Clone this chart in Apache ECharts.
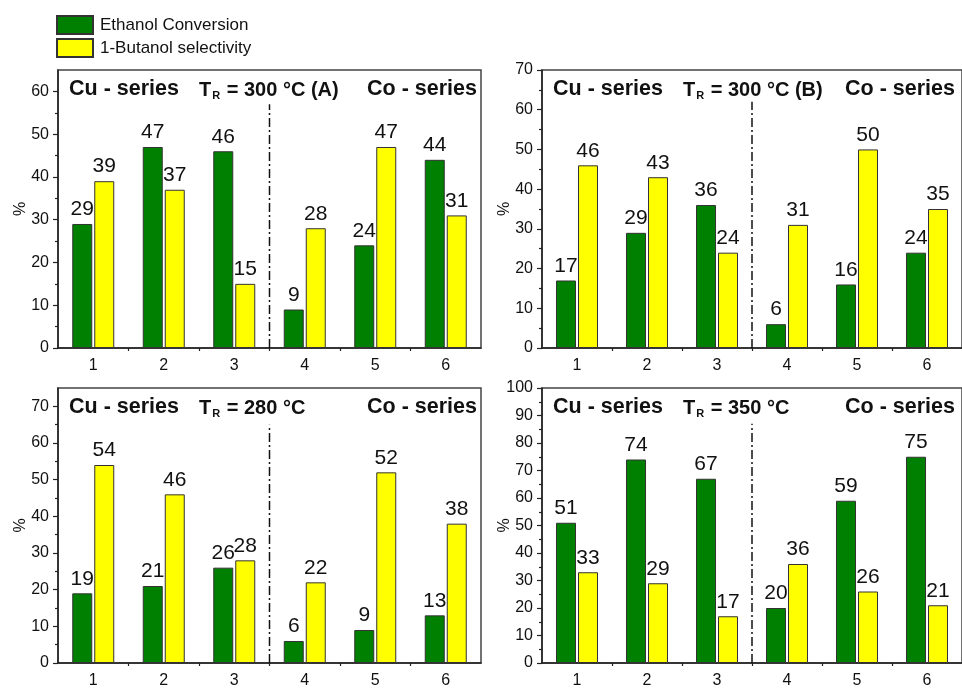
<!DOCTYPE html>
<html>
<head>
<meta charset="utf-8">
<style>
  html, body { margin: 0; padding: 0; background: #fff; }
  #chart { width: 962px; height: 689px; }
</style>
<script src="https://cdn.jsdelivr.net/npm/echarts@6/dist/echarts.min.js"></script>
</head>
<body>
<div id="chart"></div>
<script>
// Catalyst numbers on the x axis
const catalysts = ['1', '2', '3', '4', '5', '6'];

// Panel A: T_R = 300 °C
const convA = [29, 47, 46, 9, 24, 44];
const selA  = [39, 37, 15, 28, 47, 31];
// Panel B: T_R = 300 °C
const convB = [17, 29, 36, 6, 16, 24];
const selB  = [46, 43, 24, 31, 50, 35];
// Panel C: T_R = 280 °C
const convC = [19, 21, 26, 6, 9, 13];
const selC  = [54, 46, 28, 22, 52, 38];
// Panel D: T_R = 350 °C
const convD = [51, 74, 67, 20, 59, 75];
const selD  = [33, 29, 17, 36, 26, 21];

// y-axis tops and labelled ticks for each panel
const yMax = [65, 70, 75, 100];
const yTicksA = [0, 10, 20, 30, 40, 50, 60];
const yTicksB = [0, 10, 20, 30, 40, 50, 60, 70];
const yTicksC = [0, 10, 20, 30, 40, 50, 60, 70];
const yTicksD = [0, 10, 20, 30, 40, 50, 60, 70, 80, 90, 100];

// Cu/Co divider position on the x axis and how high it reaches in each panel
const dividerX = 3.5;
const dividerTop = [57, 62, 65, 87];

// Panel headings
const tempText = ['300 °C (A)', '300 °C (B)', '280 °C', '350 °C'];

const FONT = '"Liberation Sans", Arial, sans-serif';
const GREEN = '#008000';
const YELLOW = '#ffff00';

const grids = [
  { left: 58, top: 70, width: 423, height: 278 },
  { left: 542, top: 70, width: 423, height: 278 },
  { left: 58, top: 388, width: 423, height: 280 },
  { left: 542, top: 388, width: 423, height: 280 }
];
// horizontal offsets of the "Co - series" heading inside each panel
const coOffset = [309, 303, 309, 303];

const panels = [
  { conv: convA, sel: selA, ticks: yTicksA },
  { conv: convB, sel: selB, ticks: yTicksB },
  { conv: convC, sel: selC, ticks: yTicksC },
  { conv: convD, sel: selD, ticks: yTicksD }
];

const option = {
  animation: false,
  backgroundColor: '#fff',
  textStyle: { fontFamily: FONT },
  grid: [],
  xAxis: [],
  yAxis: [],
  series: [],
  title: [],
  legend: {
    orient: 'vertical',
    left: 56,
    top: 15,
    padding: 0,
    itemWidth: 36,
    itemHeight: 18,
    itemGap: 3,
    icon: 'rect',
    textStyle: { fontFamily: FONT, fontSize: 17, color: '#111', padding: [0, 0, 0, 2] },
    data: ['Ethanol Conversion', '1-Butanol selectivity']
  }
};

function minorBetween(values, step) {
  const out = [];
  for (let i = 0; i < values.length; i++) out.push(values[i] + step);
  return out;
}

panels.forEach((p, i) => {
  const g = grids[i];
  option.grid.push(Object.assign({ show: true, borderColor: '#444', borderWidth: 1.5, containLabel: false }, g));

  // category axis carrying the bars, major ticks at the catalyst centres
  option.xAxis.push({
    type: 'category',
    gridIndex: i,
    data: catalysts,
    boundaryGap: true,
    axisLine: { lineStyle: { color: '#222', width: 1.5 } },
    axisTick: { alignWithLabel: true, length: 6, lineStyle: { color: '#222', width: 1.2 } },
    axisLabel: { fontSize: 16, color: '#111', margin: 10, fontFamily: FONT }
  });
  // value axis spanning the same range: minor ticks and the divider line
  option.xAxis.push({
    type: 'value',
    gridIndex: i,
    min: 0.5,
    max: 6.5,
    position: 'bottom',
    axisLine: { show: false },
    splitLine: { show: false },
    axisLabel: { show: false },
    axisTick: { show: true, length: 3, customValues: [1.5, 2.5, 3.5, 4.5, 5.5], lineStyle: { color: '#222', width: 1.2 } }
  });

  const ticks = p.ticks;
  option.yAxis.push({
    type: 'value',
    gridIndex: i,
    position: 'left',
    min: 0,
    max: yMax[i],
    name: '%',
    nameLocation: 'middle',
    nameGap: 29,
    nameRotate: 90,
    nameMoveOverlap: false,
    nameTextStyle: { fontSize: 16, color: '#111', fontFamily: FONT },
    axisLine: { show: true, lineStyle: { color: '#222', width: 1.5 } },
    splitLine: { show: false },
    axisTick: { show: true, length: 5, customValues: ticks, lineStyle: { color: '#222', width: 1.2 } },
    axisLabel: { fontSize: 16, color: '#111', margin: 9, customValues: ticks, fontFamily: FONT }
  });
  option.yAxis.push({
    type: 'value',
    gridIndex: i,
    position: 'left',
    offset: 0,
    min: 0,
    max: yMax[i],
    axisLine: { show: false },
    splitLine: { show: false },
    axisLabel: { show: false },
    axisTick: { show: true, length: 3, customValues: minorBetween(ticks.slice(0, -1), 5), lineStyle: { color: '#222', width: 1.2 } }
  });

  const xCat = i * 2, xVal = i * 2 + 1, yMain = i * 2;
  const labelStyle = { show: true, position: 'top', distance: 4, fontSize: 21, color: '#111', fontFamily: FONT };

  option.series.push({
    name: 'Ethanol Conversion',
    type: 'bar',
    xAxisIndex: xCat,
    yAxisIndex: yMain,
    data: p.conv,
    barWidth: 20,
    barGap: '10%',
    itemStyle: { color: GREEN, borderColor: '#333', borderWidth: 1 },
    label: labelStyle
  });
  option.series.push({
    name: '1-Butanol selectivity',
    type: 'bar',
    xAxisIndex: xCat,
    yAxisIndex: yMain,
    data: p.sel,
    barWidth: 20,
    barGap: '10%',
    itemStyle: { color: YELLOW, borderColor: '#333', borderWidth: 1 },
    label: labelStyle
  });
  // Cu / Co divider
  option.series.push({
    type: 'line',
    xAxisIndex: xVal,
    yAxisIndex: yMain,
    data: [[dividerX, 0], [dividerX, dividerTop[i]]],
    symbol: 'none',
    silent: true,
    lineStyle: { color: '#111', width: 1.5, type: [9, 3, 2, 3] }
  });

  // headings inside the panel
  const headTop = g.top + 8;
  option.title.push({
    text: 'Cu - series',
    left: g.left + 11,
    top: headTop,
    padding: 0,
    textStyle: { fontSize: 21.5, fontWeight: 'bold', color: '#111', fontFamily: FONT }
  });
  option.title.push({
    text: '{b|T}{s|R}{b| = ' + tempText[i] + '}',
    left: g.left + 141,
    top: headTop,
    padding: 0,
    textStyle: {
      fontFamily: FONT,
      rich: {
        b: { fontSize: 20, fontWeight: 'bold', color: '#111', fontFamily: FONT, lineHeight: 24 },
        s: { fontSize: 11, fontWeight: 'bold', color: '#111', fontFamily: FONT, padding: [11, 1, 0, 1], lineHeight: 24 }
      }
    }
  });
  option.title.push({
    text: 'Co - series',
    left: g.left + coOffset[i],
    top: headTop,
    padding: 0,
    textStyle: { fontSize: 21.5, fontWeight: 'bold', color: '#111', fontFamily: FONT }
  });
});

const chart = echarts.init(document.getElementById('chart'), null, { renderer: 'canvas' });
chart.setOption(option);
</script>
</body>
</html>
